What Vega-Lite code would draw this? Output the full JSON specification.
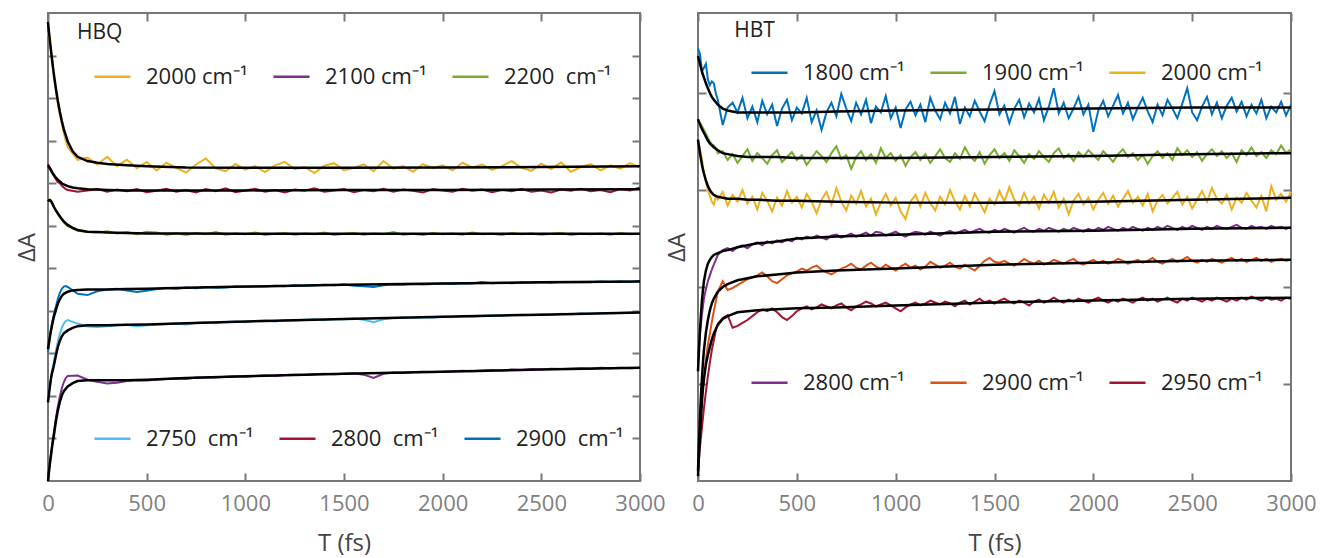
{
"$schema": "https://vega.github.io/schema/vega-lite/v6.json",
"padding": {"left": 14, "top": 11, "right": 0, "bottom": 0},
"background": "white",
"spacing": 58,
"bounds": "flush",
"config": {
  "font": "Open Sans",
  "view": {"stroke": "#777777", "strokeWidth": 2},
  "axis": {"domain": false, "grid": false, "tickColor": "#777777", "tickWidth": 2, "tickSize": -8, "labelColor": "#808080", "labelFontSize": 22, "labelFlush": false, "format": "d", "labelFont": "Open Sans", "titleFont": "Open Sans", "titleFontWeight": "normal", "titleFontSize": 24, "titleColor": "#444444"},
  "legend": {"orient": "none", "direction": "horizontal", "columns": 3, "symbolType": "stroke", "symbolSize": 1300, "symbolStrokeWidth": 2.5, "symbolOpacity": 1, "labelFontSize": 22, "labelFont": "Open Sans", "labelColor": "#222222", "labelOffset": 14, "columnPadding": 20, "padding": 0, "rowPadding": 0}
},
"datasets": {
"hbq": [
{"t":0,"a":10.55,"b":7.45,"c":6.55,"d":3.03,"e":1.93,"f":0.05},
{"t":10,"a":10.30,"b":7.36,"c":6.62,"d":3.42,"e":2.28,"f":0.45},
{"t":20,"a":9.95,"b":7.28,"c":6.56,"d":3.70,"e":2.58,"f":0.82},
{"t":30,"a":9.50,"b":7.17,"c":6.45,"d":3.92,"e":2.80,"f":1.15},
{"t":40,"a":9.20,"b":7.10,"c":6.35,"d":4.10,"e":3.05,"f":1.48},
{"t":50,"a":8.85,"b":7.02,"c":6.27,"d":4.28,"e":3.28,"f":1.75},
{"t":60,"a":8.62,"b":7.00,"c":6.20,"d":4.42,"e":3.46,"f":1.98},
{"t":70,"a":8.40,"b":6.94,"c":6.14,"d":4.52,"e":3.60,"f":2.18},
{"t":80,"a":8.18,"b":6.90,"c":6.08,"d":4.57,"e":3.70,"f":2.32},
{"t":90,"a":8.00,"b":6.86,"c":6.03,"d":4.58,"e":3.76,"f":2.42},
{"t":100,"a":7.85,"b":6.84,"c":5.99,"d":4.56,"e":3.78,"f":2.47},
{"t":150,"a":7.55,"b":6.80,"c":5.88,"d":4.40,"e":3.70,"f":2.48},
{"t":200,"a":7.60,"b":6.83,"c":5.85,"d":4.37,"e":3.63,"f":2.38},
{"t":250,"a":7.44,"b":6.86,"c":5.84,"d":4.46,"e":3.62,"f":2.33},
{"t":300,"a":7.62,"b":6.80,"c":5.87,"d":4.50,"e":3.64,"f":2.29},
{"t":350,"a":7.40,"b":6.85,"c":5.82,"d":4.52,"e":3.66,"f":2.31},
{"t":400,"a":7.55,"b":6.81,"c":5.85,"d":4.48,"e":3.67,"f":2.35},
{"t":450,"a":7.35,"b":6.86,"c":5.80,"d":4.44,"e":3.64,"f":2.37},
{"t":500,"a":7.50,"b":6.79,"c":5.86,"d":4.47,"e":3.66,"f":2.36},
{"t":550,"a":7.30,"b":6.82,"c":5.84,"d":4.51,"e":3.67,"f":2.38},
{"t":600,"a":7.48,"b":6.87,"c":5.79,"d":4.54,"e":3.69,"f":2.40},
{"t":650,"a":7.36,"b":6.80,"c":5.82,"d":4.52,"e":3.70,"f":2.41},
{"t":700,"a":7.25,"b":6.84,"c":5.78,"d":4.55,"e":3.68,"f":2.40},
{"t":750,"a":7.44,"b":6.78,"c":5.83,"d":4.53,"e":3.72,"f":2.43},
{"t":800,"a":7.58,"b":6.86,"c":5.80,"d":4.56,"e":3.73,"f":2.44},
{"t":850,"a":7.35,"b":6.81,"c":5.85,"d":4.54,"e":3.71,"f":2.43},
{"t":900,"a":7.28,"b":6.88,"c":5.79,"d":4.55,"e":3.74,"f":2.45},
{"t":950,"a":7.45,"b":6.79,"c":5.82,"d":4.57,"e":3.75,"f":2.46},
{"t":1000,"a":7.32,"b":6.83,"c":5.80,"d":4.56,"e":3.73,"f":2.45},
{"t":1050,"a":7.40,"b":6.87,"c":5.84,"d":4.58,"e":3.76,"f":2.47},
{"t":1100,"a":7.26,"b":6.80,"c":5.78,"d":4.57,"e":3.77,"f":2.48},
{"t":1150,"a":7.42,"b":6.84,"c":5.81,"d":4.59,"e":3.75,"f":2.47},
{"t":1200,"a":7.50,"b":6.78,"c":5.83,"d":4.58,"e":3.78,"f":2.49},
{"t":1250,"a":7.33,"b":6.85,"c":5.79,"d":4.60,"e":3.77,"f":2.50},
{"t":1300,"a":7.38,"b":6.82,"c":5.82,"d":4.59,"e":3.79,"f":2.49},
{"t":1350,"a":7.24,"b":6.88,"c":5.80,"d":4.60,"e":3.80,"f":2.51},
{"t":1400,"a":7.41,"b":6.80,"c":5.84,"d":4.61,"e":3.78,"f":2.52},
{"t":1450,"a":7.47,"b":6.83,"c":5.78,"d":4.60,"e":3.81,"f":2.51},
{"t":1500,"a":7.30,"b":6.86,"c":5.81,"d":4.62,"e":3.80,"f":2.52},
{"t":1550,"a":7.36,"b":6.79,"c":5.83,"d":4.59,"e":3.82,"f":2.53},
{"t":1600,"a":7.44,"b":6.84,"c":5.79,"d":4.58,"e":3.79,"f":2.50},
{"t":1650,"a":7.28,"b":6.81,"c":5.82,"d":4.56,"e":3.73,"f":2.42},
{"t":1700,"a":7.52,"b":6.87,"c":5.80,"d":4.60,"e":3.80,"f":2.52},
{"t":1750,"a":7.34,"b":6.80,"c":5.85,"d":4.62,"e":3.83,"f":2.55},
{"t":1800,"a":7.40,"b":6.85,"c":5.79,"d":4.61,"e":3.84,"f":2.54},
{"t":1850,"a":7.27,"b":6.82,"c":5.81,"d":4.63,"e":3.83,"f":2.56},
{"t":1900,"a":7.45,"b":6.78,"c":5.78,"d":4.62,"e":3.85,"f":2.57},
{"t":1950,"a":7.35,"b":6.86,"c":5.83,"d":4.63,"e":3.84,"f":2.56},
{"t":2000,"a":7.42,"b":6.83,"c":5.80,"d":4.64,"e":3.86,"f":2.57},
{"t":2050,"a":7.30,"b":6.80,"c":5.82,"d":4.63,"e":3.85,"f":2.58},
{"t":2100,"a":7.48,"b":6.87,"c":5.79,"d":4.65,"e":3.87,"f":2.59},
{"t":2150,"a":7.37,"b":6.82,"c":5.84,"d":4.64,"e":3.86,"f":2.58},
{"t":2200,"a":7.44,"b":6.85,"c":5.80,"d":4.68,"e":3.88,"f":2.60},
{"t":2250,"a":7.31,"b":6.79,"c":5.81,"d":4.65,"e":3.89,"f":2.61},
{"t":2300,"a":7.40,"b":6.84,"c":5.78,"d":4.66,"e":3.88,"f":2.60},
{"t":2350,"a":7.52,"b":6.81,"c":5.83,"d":4.65,"e":3.90,"f":2.62},
{"t":2400,"a":7.36,"b":6.86,"c":5.80,"d":4.67,"e":3.91,"f":2.61},
{"t":2450,"a":7.29,"b":6.80,"c":5.82,"d":4.66,"e":3.90,"f":2.63},
{"t":2500,"a":7.46,"b":6.83,"c":5.79,"d":4.67,"e":3.92,"f":2.62},
{"t":2550,"a":7.33,"b":6.78,"c":5.81,"d":4.66,"e":3.91,"f":2.64},
{"t":2600,"a":7.49,"b":6.85,"c":5.83,"d":4.68,"e":3.93,"f":2.63},
{"t":2650,"a":7.27,"b":6.82,"c":5.78,"d":4.67,"e":3.92,"f":2.64},
{"t":2700,"a":7.38,"b":6.87,"c":5.81,"d":4.68,"e":3.94,"f":2.65},
{"t":2750,"a":7.45,"b":6.81,"c":5.80,"d":4.67,"e":3.93,"f":2.64},
{"t":2800,"a":7.30,"b":6.84,"c":5.82,"d":4.69,"e":3.95,"f":2.66},
{"t":2850,"a":7.42,"b":6.79,"c":5.79,"d":4.68,"e":3.94,"f":2.65},
{"t":2900,"a":7.34,"b":6.86,"c":5.83,"d":4.69,"e":3.95,"f":2.66},
{"t":2950,"a":7.47,"b":6.83,"c":5.80,"d":4.68,"e":3.96,"f":2.65},
{"t":3000,"a":7.36,"b":6.90,"c":5.81,"d":4.70,"e":3.96,"f":2.66}
],
"hbqfit": [
{"t":0,"a":10.79,"b":7.42,"c":6.57,"d":3.10,"e":1.85,"f":0.00},
{"t":5,"a":10.55,"b":7.38,"c":6.60,"d":3.25,"e":2.05,"f":0.22},
{"t":10,"a":10.33,"b":7.34,"c":6.60,"d":3.40,"e":2.24,"f":0.42},
{"t":15,"a":10.12,"b":7.30,"c":6.58,"d":3.53,"e":2.40,"f":0.60},
{"t":20,"a":9.92,"b":7.26,"c":6.54,"d":3.65,"e":2.53,"f":0.78},
{"t":25,"a":9.73,"b":7.22,"c":6.49,"d":3.76,"e":2.62,"f":0.94},
{"t":30,"a":9.55,"b":7.19,"c":6.44,"d":3.86,"e":2.72,"f":1.08},
{"t":40,"a":9.22,"b":7.13,"c":6.36,"d":4.02,"e":2.95,"f":1.40},
{"t":50,"a":8.93,"b":7.08,"c":6.29,"d":4.17,"e":3.15,"f":1.66},
{"t":60,"a":8.68,"b":7.04,"c":6.22,"d":4.27,"e":3.30,"f":1.86},
{"t":70,"a":8.46,"b":7.00,"c":6.16,"d":4.35,"e":3.40,"f":2.01},
{"t":80,"a":8.27,"b":6.97,"c":6.10,"d":4.40,"e":3.47,"f":2.11},
{"t":100,"a":7.98,"b":6.93,"c":6.02,"d":4.45,"e":3.54,"f":2.22},
{"t":125,"a":7.75,"b":6.90,"c":5.95,"d":4.48,"e":3.60,"f":2.30},
{"t":150,"a":7.62,"b":6.88,"c":5.90,"d":4.49,"e":3.64,"f":2.35},
{"t":200,"a":7.52,"b":6.86,"c":5.86,"d":4.50,"e":3.66,"f":2.37},
{"t":250,"a":7.48,"b":6.85,"c":5.85,"d":4.50,"e":3.66,"f":2.37},
{"t":300,"a":7.45,"b":6.84,"c":5.84,"d":4.50,"e":3.66,"f":2.37},
{"t":400,"a":7.42,"b":6.83,"c":5.83,"d":4.51,"e":3.67,"f":2.37},
{"t":500,"a":7.40,"b":6.83,"c":5.82,"d":4.52,"e":3.68,"f":2.38},
{"t":700,"a":7.37,"b":6.83,"c":5.82,"d":4.54,"e":3.71,"f":2.42},
{"t":1000,"a":7.36,"b":6.83,"c":5.81,"d":4.57,"e":3.75,"f":2.46},
{"t":1500,"a":7.36,"b":6.84,"c":5.81,"d":4.61,"e":3.81,"f":2.52},
{"t":2000,"a":7.37,"b":6.84,"c":5.81,"d":4.64,"e":3.86,"f":2.57},
{"t":2500,"a":7.38,"b":6.85,"c":5.81,"d":4.67,"e":3.91,"f":2.62},
{"t":3000,"a":7.40,"b":6.86,"c":5.81,"d":4.69,"e":3.96,"f":2.66}
],
"hbt": [
{"t":0,"a":4.46,"b":3.70,"c":3.50,"d":1.24,"e":0.20,"f":0.10},
{"t":10,"a":4.40,"b":3.69,"c":3.42,"d":1.52,"e":0.55,"f":0.35},
{"t":20,"a":4.22,"b":3.66,"c":3.32,"d":1.72,"e":0.88,"f":0.55},
{"t":30,"a":4.26,"b":3.62,"c":3.18,"d":1.88,"e":1.06,"f":0.75},
{"t":40,"a":4.30,"b":3.58,"c":3.08,"d":1.98,"e":1.25,"f":0.92},
{"t":50,"a":4.14,"b":3.54,"c":3.00,"d":2.06,"e":1.40,"f":1.08},
{"t":60,"a":4.08,"b":3.50,"c":2.94,"d":2.12,"e":1.52,"f":1.22},
{"t":70,"a":4.12,"b":3.47,"c":2.88,"d":2.18,"e":1.64,"f":1.35},
{"t":80,"a":4.10,"b":3.46,"c":2.85,"d":2.23,"e":1.75,"f":1.45},
{"t":90,"a":4.00,"b":3.43,"c":2.93,"d":2.28,"e":1.85,"f":1.55},
{"t":100,"a":3.93,"b":3.38,"c":2.90,"d":2.33,"e":1.95,"f":1.62},
{"t":125,"a":3.67,"b":3.40,"c":2.98,"d":2.38,"e":2.06,"f":1.68},
{"t":150,"a":3.85,"b":3.31,"c":2.84,"d":2.40,"e":1.97,"f":1.71},
{"t":175,"a":3.90,"b":3.37,"c":2.95,"d":2.37,"e":1.99,"f":1.58},
{"t":200,"a":3.80,"b":3.28,"c":2.88,"d":2.41,"e":2.02,"f":1.60},
{"t":225,"a":3.95,"b":3.35,"c":3.00,"d":2.43,"e":2.05,"f":1.63},
{"t":250,"a":3.74,"b":3.42,"c":2.86,"d":2.40,"e":2.08,"f":1.66},
{"t":275,"a":3.86,"b":3.30,"c":2.93,"d":2.44,"e":2.10,"f":1.70},
{"t":300,"a":3.70,"b":3.38,"c":2.80,"d":2.46,"e":2.12,"f":1.74},
{"t":325,"a":3.92,"b":3.33,"c":2.97,"d":2.43,"e":2.15,"f":1.77},
{"t":350,"a":3.78,"b":3.27,"c":2.89,"d":2.47,"e":2.11,"f":1.75},
{"t":375,"a":3.88,"b":3.36,"c":2.78,"d":2.45,"e":2.06,"f":1.78},
{"t":400,"a":3.66,"b":3.41,"c":2.92,"d":2.48,"e":2.04,"f":1.74},
{"t":425,"a":3.84,"b":3.29,"c":2.84,"d":2.46,"e":2.08,"f":1.69},
{"t":450,"a":3.93,"b":3.34,"c":2.99,"d":2.49,"e":2.12,"f":1.66},
{"t":475,"a":3.72,"b":3.39,"c":2.87,"d":2.47,"e":2.14,"f":1.70},
{"t":500,"a":3.85,"b":3.31,"c":2.93,"d":2.51,"e":2.16,"f":1.75},
{"t":525,"a":3.79,"b":3.36,"c":2.82,"d":2.49,"e":2.19,"f":1.78},
{"t":550,"a":3.95,"b":3.26,"c":2.96,"d":2.52,"e":2.17,"f":1.80},
{"t":575,"a":3.70,"b":3.33,"c":2.88,"d":2.50,"e":2.20,"f":1.77},
{"t":600,"a":3.82,"b":3.40,"c":2.76,"d":2.53,"e":2.22,"f":1.79},
{"t":625,"a":3.62,"b":3.35,"c":2.90,"d":2.51,"e":2.18,"f":1.82},
{"t":650,"a":3.80,"b":3.29,"c":2.98,"d":2.49,"e":2.15,"f":1.80},
{"t":675,"a":3.90,"b":3.38,"c":2.85,"d":2.53,"e":2.13,"f":1.78},
{"t":700,"a":3.76,"b":3.45,"c":3.02,"d":2.54,"e":2.16,"f":1.81},
{"t":725,"a":3.99,"b":3.32,"c":2.88,"d":2.51,"e":2.19,"f":1.83},
{"t":750,"a":3.84,"b":3.36,"c":2.79,"d":2.53,"e":2.21,"f":1.79},
{"t":775,"a":3.71,"b":3.22,"c":2.94,"d":2.55,"e":2.24,"f":1.76},
{"t":800,"a":3.90,"b":3.34,"c":2.86,"d":2.52,"e":2.20,"f":1.80},
{"t":825,"a":3.78,"b":3.40,"c":2.99,"d":2.54,"e":2.18,"f":1.82},
{"t":850,"a":3.93,"b":3.31,"c":2.83,"d":2.56,"e":2.22,"f":1.85},
{"t":875,"a":3.69,"b":3.37,"c":2.91,"d":2.53,"e":2.25,"f":1.83},
{"t":900,"a":3.86,"b":3.28,"c":2.75,"d":2.57,"e":2.21,"f":1.80},
{"t":925,"a":3.80,"b":3.43,"c":2.87,"d":2.56,"e":2.19,"f":1.82},
{"t":950,"a":3.97,"b":3.33,"c":2.96,"d":2.53,"e":2.23,"f":1.84},
{"t":975,"a":3.74,"b":3.38,"c":2.84,"d":2.55,"e":2.20,"f":1.81},
{"t":1000,"a":3.85,"b":3.30,"c":2.92,"d":2.57,"e":2.17,"f":1.78},
{"t":1025,"a":3.64,"b":3.36,"c":2.78,"d":2.54,"e":2.21,"f":1.75},
{"t":1050,"a":3.83,"b":3.25,"c":2.70,"d":2.52,"e":2.24,"f":1.79},
{"t":1075,"a":3.91,"b":3.34,"c":2.88,"d":2.55,"e":2.20,"f":1.82},
{"t":1100,"a":3.77,"b":3.39,"c":2.95,"d":2.57,"e":2.22,"f":1.84},
{"t":1125,"a":3.88,"b":3.31,"c":2.83,"d":2.56,"e":2.18,"f":1.81},
{"t":1150,"a":3.70,"b":3.37,"c":2.97,"d":2.54,"e":2.21,"f":1.83},
{"t":1175,"a":3.95,"b":3.28,"c":2.86,"d":2.57,"e":2.26,"f":1.86},
{"t":1200,"a":3.82,"b":3.35,"c":2.79,"d":2.55,"e":2.23,"f":1.84},
{"t":1225,"a":3.73,"b":3.42,"c":2.93,"d":2.53,"e":2.20,"f":1.82},
{"t":1250,"a":3.90,"b":3.33,"c":2.85,"d":2.56,"e":2.22,"f":1.85},
{"t":1275,"a":3.79,"b":3.29,"c":3.00,"d":2.58,"e":2.25,"f":1.83},
{"t":1300,"a":3.96,"b":3.38,"c":2.88,"d":2.55,"e":2.21,"f":1.80},
{"t":1325,"a":3.68,"b":3.32,"c":2.80,"d":2.57,"e":2.19,"f":1.84},
{"t":1350,"a":3.85,"b":3.44,"c":2.94,"d":2.59,"e":2.23,"f":1.86},
{"t":1375,"a":3.76,"b":3.35,"c":2.83,"d":2.56,"e":2.20,"f":1.82},
{"t":1400,"a":3.92,"b":3.30,"c":2.96,"d":2.58,"e":2.17,"f":1.85},
{"t":1425,"a":3.81,"b":3.39,"c":2.87,"d":2.60,"e":2.22,"f":1.88},
{"t":1450,"a":3.71,"b":3.27,"c":2.77,"d":2.57,"e":2.27,"f":1.84},
{"t":1475,"a":3.88,"b":3.36,"c":2.91,"d":2.56,"e":2.30,"f":1.86},
{"t":1500,"a":4.02,"b":3.42,"c":2.85,"d":2.59,"e":2.26,"f":1.83},
{"t":1525,"a":3.78,"b":3.33,"c":2.99,"d":2.57,"e":2.25,"f":1.86},
{"t":1550,"a":3.87,"b":3.38,"c":2.88,"d":2.60,"e":2.27,"f":1.88},
{"t":1575,"a":3.69,"b":3.30,"c":3.03,"d":2.58,"e":2.24,"f":1.85},
{"t":1600,"a":3.84,"b":3.41,"c":2.90,"d":2.56,"e":2.22,"f":1.83},
{"t":1625,"a":3.93,"b":3.35,"c":2.84,"d":2.59,"e":2.25,"f":1.86},
{"t":1650,"a":3.75,"b":3.28,"c":2.97,"d":2.61,"e":2.29,"f":1.84},
{"t":1675,"a":3.89,"b":3.37,"c":2.86,"d":2.58,"e":2.26,"f":1.81},
{"t":1700,"a":3.80,"b":3.32,"c":2.93,"d":2.57,"e":2.24,"f":1.85},
{"t":1725,"a":3.94,"b":3.40,"c":2.81,"d":2.60,"e":2.27,"f":1.87},
{"t":1750,"a":3.72,"b":3.34,"c":2.95,"d":2.58,"e":2.23,"f":1.84},
{"t":1775,"a":3.86,"b":3.29,"c":2.87,"d":2.61,"e":2.25,"f":1.86},
{"t":1800,"a":4.05,"b":3.38,"c":2.98,"d":2.59,"e":2.28,"f":1.89},
{"t":1825,"a":3.79,"b":3.43,"c":2.82,"d":2.57,"e":2.26,"f":1.86},
{"t":1850,"a":3.90,"b":3.33,"c":2.91,"d":2.60,"e":2.24,"f":1.84},
{"t":1875,"a":3.74,"b":3.37,"c":2.75,"d":2.58,"e":2.27,"f":1.87},
{"t":1900,"a":3.84,"b":3.30,"c":2.89,"d":2.61,"e":2.29,"f":1.85},
{"t":1925,"a":3.96,"b":3.39,"c":2.96,"d":2.59,"e":2.25,"f":1.88},
{"t":1950,"a":3.78,"b":3.34,"c":2.85,"d":2.57,"e":2.23,"f":1.86},
{"t":1975,"a":3.88,"b":3.41,"c":2.92,"d":2.60,"e":2.26,"f":1.84},
{"t":2000,"a":3.60,"b":3.36,"c":2.80,"d":2.58,"e":2.28,"f":1.87},
{"t":2025,"a":3.82,"b":3.31,"c":2.90,"d":2.61,"e":2.25,"f":1.89},
{"t":2050,"a":3.92,"b":3.40,"c":2.97,"d":2.59,"e":2.27,"f":1.86},
{"t":2075,"a":3.76,"b":3.35,"c":2.86,"d":2.62,"e":2.24,"f":1.84},
{"t":2100,"a":3.87,"b":3.29,"c":2.94,"d":2.60,"e":2.26,"f":1.87},
{"t":2125,"a":3.98,"b":3.37,"c":2.83,"d":2.58,"e":2.29,"f":1.85},
{"t":2150,"a":3.79,"b":3.42,"c":2.91,"d":2.61,"e":2.27,"f":1.88},
{"t":2175,"a":3.90,"b":3.34,"c":2.99,"d":2.59,"e":2.24,"f":1.86},
{"t":2200,"a":3.73,"b":3.38,"c":2.87,"d":2.62,"e":2.26,"f":1.84},
{"t":2225,"a":3.85,"b":3.31,"c":2.93,"d":2.60,"e":2.28,"f":1.87},
{"t":2250,"a":3.95,"b":3.36,"c":2.84,"d":2.58,"e":2.25,"f":1.89},
{"t":2275,"a":3.81,"b":3.27,"c":2.96,"d":2.61,"e":2.27,"f":1.86},
{"t":2300,"a":3.70,"b":3.35,"c":2.78,"d":2.59,"e":2.30,"f":1.88},
{"t":2325,"a":3.88,"b":3.40,"c":2.89,"d":2.62,"e":2.26,"f":1.85},
{"t":2350,"a":3.77,"b":3.33,"c":2.95,"d":2.60,"e":2.24,"f":1.87},
{"t":2375,"a":3.93,"b":3.38,"c":2.86,"d":2.63,"e":2.27,"f":1.89},
{"t":2400,"a":3.84,"b":3.31,"c":2.92,"d":2.61,"e":2.29,"f":1.86},
{"t":2425,"a":3.74,"b":3.43,"c":2.98,"d":2.59,"e":2.26,"f":1.84},
{"t":2450,"a":3.89,"b":3.36,"c":2.85,"d":2.62,"e":2.28,"f":1.88},
{"t":2475,"a":4.05,"b":3.41,"c":2.93,"d":2.60,"e":2.31,"f":1.86},
{"t":2500,"a":3.80,"b":3.34,"c":2.81,"d":2.63,"e":2.27,"f":1.89},
{"t":2525,"a":3.72,"b":3.39,"c":2.90,"d":2.61,"e":2.25,"f":1.87},
{"t":2550,"a":3.86,"b":3.30,"c":2.99,"d":2.59,"e":2.28,"f":1.85},
{"t":2575,"a":3.96,"b":3.37,"c":2.88,"d":2.62,"e":2.26,"f":1.88},
{"t":2600,"a":3.78,"b":3.42,"c":3.02,"d":2.60,"e":2.29,"f":1.86},
{"t":2625,"a":3.90,"b":3.35,"c":2.91,"d":2.63,"e":2.27,"f":1.89},
{"t":2650,"a":3.74,"b":3.40,"c":2.86,"d":2.61,"e":2.25,"f":1.87},
{"t":2675,"a":3.87,"b":3.33,"c":2.95,"d":2.60,"e":2.28,"f":1.85},
{"t":2700,"a":3.95,"b":3.38,"c":2.80,"d":2.62,"e":2.30,"f":1.88},
{"t":2725,"a":3.81,"b":3.29,"c":2.92,"d":2.64,"e":2.27,"f":1.86},
{"t":2750,"a":3.91,"b":3.41,"c":2.87,"d":2.61,"e":2.29,"f":1.89},
{"t":2775,"a":3.76,"b":3.36,"c":2.97,"d":2.60,"e":2.26,"f":1.87},
{"t":2800,"a":3.88,"b":3.44,"c":2.89,"d":2.63,"e":2.28,"f":1.90},
{"t":2825,"a":3.79,"b":3.35,"c":2.82,"d":2.61,"e":2.30,"f":1.88},
{"t":2850,"a":3.93,"b":3.39,"c":2.94,"d":2.62,"e":2.27,"f":1.86},
{"t":2875,"a":3.74,"b":3.33,"c":2.78,"d":2.60,"e":2.29,"f":1.89},
{"t":2900,"a":3.86,"b":3.41,"c":3.04,"d":2.63,"e":2.26,"f":1.87},
{"t":2925,"a":3.80,"b":3.37,"c":2.90,"d":2.61,"e":2.28,"f":1.88},
{"t":2950,"a":3.91,"b":3.46,"c":2.96,"d":2.62,"e":2.29,"f":1.86},
{"t":2975,"a":3.77,"b":3.38,"c":2.88,"d":2.60,"e":2.27,"f":1.89},
{"t":3000,"a":3.88,"b":3.42,"c":2.98,"d":2.62,"e":2.28,"f":1.88}
],
"hbtfit": [
{"t":0,"a":4.38,"b":3.73,"c":3.52,"d":1.13,"e":0.10,"f":0.05},
{"t":5,"a":4.34,"b":3.70,"c":3.45,"d":1.35,"e":0.40,"f":0.27},
{"t":10,"a":4.30,"b":3.68,"c":3.38,"d":1.55,"e":0.66,"f":0.47},
{"t":15,"a":4.26,"b":3.65,"c":3.32,"d":1.72,"e":0.88,"f":0.65},
{"t":20,"a":4.22,"b":3.63,"c":3.26,"d":1.86,"e":1.06,"f":0.82},
{"t":25,"a":4.19,"b":3.61,"c":3.21,"d":1.97,"e":1.22,"f":0.95},
{"t":30,"a":4.16,"b":3.59,"c":3.17,"d":2.06,"e":1.35,"f":1.05},
{"t":40,"a":4.10,"b":3.55,"c":3.10,"d":2.17,"e":1.53,"f":1.20},
{"t":50,"a":4.05,"b":3.51,"c":3.04,"d":2.24,"e":1.66,"f":1.30},
{"t":60,"a":4.00,"b":3.48,"c":3.00,"d":2.28,"e":1.76,"f":1.38},
{"t":70,"a":3.96,"b":3.46,"c":2.97,"d":2.31,"e":1.83,"f":1.46},
{"t":80,"a":3.93,"b":3.44,"c":2.95,"d":2.33,"e":1.88,"f":1.52},
{"t":100,"a":3.88,"b":3.41,"c":2.93,"d":2.35,"e":1.95,"f":1.61},
{"t":125,"a":3.84,"b":3.38,"c":2.92,"d":2.37,"e":2.00,"f":1.67},
{"t":150,"a":3.82,"b":3.37,"c":2.91,"d":2.38,"e":2.03,"f":1.70},
{"t":200,"a":3.80,"b":3.35,"c":2.91,"d":2.41,"e":2.07,"f":1.74},
{"t":250,"a":3.80,"b":3.34,"c":2.90,"d":2.43,"e":2.09,"f":1.75},
{"t":300,"a":3.80,"b":3.34,"c":2.90,"d":2.45,"e":2.11,"f":1.76},
{"t":400,"a":3.80,"b":3.34,"c":2.89,"d":2.47,"e":2.13,"f":1.77},
{"t":500,"a":3.80,"b":3.33,"c":2.89,"d":2.50,"e":2.15,"f":1.78},
{"t":700,"a":3.81,"b":3.33,"c":2.88,"d":2.52,"e":2.17,"f":1.79},
{"t":1000,"a":3.82,"b":3.33,"c":2.87,"d":2.54,"e":2.19,"f":1.81},
{"t":1500,"a":3.83,"b":3.34,"c":2.87,"d":2.57,"e":2.23,"f":1.84},
{"t":2000,"a":3.84,"b":3.35,"c":2.88,"d":2.58,"e":2.25,"f":1.86},
{"t":2500,"a":3.85,"b":3.37,"c":2.90,"d":2.60,"e":2.27,"f":1.88},
{"t":3000,"a":3.85,"b":3.38,"c":2.92,"d":2.61,"e":2.28,"f":1.89}
]
},
"hconcat": [
{
  "width": 592, "height": 468,
  "layer": [
    {"data": {"name": "hbq"}, "transform": [{"fold": ["a","b","c","d","e","f"], "as": ["k","v"]}],
     "mark": {"type": "line", "strokeWidth": 2},
     "encoding": {
       "x": {"field": "t", "type": "quantitative", "scale": {"domain": [0,3000], "nice": false}, "axis": {"orient": "bottom", "values": [0,500,1000,1500,2000,2500,3000], "title": "T (fs)", "labelPadding": 20, "titlePadding": 17}},
       "y": {"field": "v", "type": "quantitative", "scale": {"domain": [0,11], "nice": false, "zero": false}, "axis": {"orient": "left", "values": [1,2,3,4,5,6,7,8,9,10], "labels": false, "title": "ΔA", "titlePadding": 8}},
       "color": {"field": "k", "type": "nominal", "scale": {"domain": ["a","b","c","d","e","f"], "range": ["#EDB120","#A2142F","#77AC30","#0072BD","#4DBEEE","#7E2F8E"]}, "legend": null}
     }},
    {"data": {"name": "hbqfit"}, "transform": [{"fold": ["a","b","c","d","e","f"], "as": ["k","v"]}],
     "mark": {"type": "line", "color": "#000000", "strokeWidth": 2.5},
     "encoding": {
       "x": {"field": "t", "type": "quantitative", "scale": {"domain": [0,3000], "nice": false}, "axis": {"orient": "top", "values": [0,500,1000,1500,2000,2500,3000], "labels": false, "title": null}},
       "y": {"field": "v", "type": "quantitative", "scale": {"domain": [0,11], "nice": false, "zero": false}, "axis": {"orient": "right", "values": [1,2,3,4,5,6,7,8,9,10], "labels": false, "title": null}},
       "detail": {"field": "k", "type": "nominal"}
     }},
    {"data": {"values": [{"w": "2000 cm⁻¹"},{"w": "2100 cm⁻¹"},{"w": "2200\u00a0 cm⁻¹"}]},
     "mark": {"type": "point", "opacity": 0},
     "encoding": {"color": {"field": "w", "type": "nominal", "scale": {"domain": ["2000 cm⁻¹","2100 cm⁻¹","2200\u00a0 cm⁻¹"], "range": ["#EDB120","#7E2F8E","#77AC30"]}, "legend": {"title": null, "legendX": 45, "legendY": 44}}}},
    {"data": {"values": [{"w": "2750\u00a0 cm⁻¹"},{"w": "2800\u00a0 cm⁻¹"},{"w": "2900\u00a0 cm⁻¹"}]},
     "mark": {"type": "point", "opacity": 0},
     "encoding": {"color": {"field": "w", "type": "nominal", "scale": {"domain": ["2750\u00a0 cm⁻¹","2800\u00a0 cm⁻¹","2900\u00a0 cm⁻¹"], "range": ["#4DBEEE","#A2142F","#0072BD"]}, "legend": {"title": null, "legendX": 45, "legendY": 406}}}},
    {"data": {"values": [{"s": "HBQ"}]},
     "mark": {"type": "text", "align": "left", "baseline": "middle", "fontSize": 21, "color": "#222222"},
     "encoding": {"x": {"datum": 147, "type": "quantitative", "scale": {"domain": [0,3000], "nice": false}, "axis": null}, "y": {"datum": 10.52, "type": "quantitative", "scale": {"domain": [0,11], "nice": false, "zero": false}, "axis": null}, "text": {"field": "s"}}}
  ],
  "resolve": {"scale": {"color": "independent"}, "axis": {"x": "independent", "y": "independent"}}
},
{
  "width": 593, "height": 468,
  "layer": [
    {"data": {"name": "hbt"}, "transform": [{"fold": ["a","b","c","d","e","f"], "as": ["k","v"]}],
     "mark": {"type": "line", "strokeWidth": 2},
     "encoding": {
       "x": {"field": "t", "type": "quantitative", "scale": {"domain": [0,3000], "nice": false}, "axis": {"orient": "bottom", "values": [0,500,1000,1500,2000,2500,3000], "title": "T (fs)", "labelPadding": 20, "titlePadding": 17}},
       "y": {"field": "v", "type": "quantitative", "scale": {"domain": [0,4.825], "nice": false, "zero": false}, "axis": {"orient": "left", "values": [1,2,3,4], "labels": false, "title": "ΔA", "titlePadding": 8}},
       "color": {"field": "k", "type": "nominal", "scale": {"domain": ["a","b","c","d","e","f"], "range": ["#0072BD","#77AC30","#EDB120","#7E2F8E","#D95319","#A2142F"]}, "legend": null}
     }},
    {"data": {"name": "hbtfit"}, "transform": [{"fold": ["a","b","c","d","e","f"], "as": ["k","v"]}],
     "mark": {"type": "line", "color": "#000000", "strokeWidth": 2.5},
     "encoding": {
       "x": {"field": "t", "type": "quantitative", "scale": {"domain": [0,3000], "nice": false}, "axis": {"orient": "top", "values": [0,500,1000,1500,2000,2500,3000], "labels": false, "title": null}},
       "y": {"field": "v", "type": "quantitative", "scale": {"domain": [0,4.825], "nice": false, "zero": false}, "axis": {"orient": "right", "values": [1,2,3,4], "labels": false, "title": null}},
       "detail": {"field": "k", "type": "nominal"}
     }},
    {"data": {"values": [{"w": "1800 cm⁻¹"},{"w": "1900 cm⁻¹"},{"w": "2000 cm⁻¹"}]},
     "mark": {"type": "point", "opacity": 0},
     "encoding": {"color": {"field": "w", "type": "nominal", "scale": {"domain": ["1800 cm⁻¹","1900 cm⁻¹","2000 cm⁻¹"], "range": ["#0072BD","#77AC30","#EDB120"]}, "legend": {"title": null, "legendX": 52, "legendY": 40}}}},
    {"data": {"values": [{"w": "2800 cm⁻¹"},{"w": "2900 cm⁻¹"},{"w": "2950 cm⁻¹"}]},
     "mark": {"type": "point", "opacity": 0},
     "encoding": {"color": {"field": "w", "type": "nominal", "scale": {"domain": ["2800 cm⁻¹","2900 cm⁻¹","2950 cm⁻¹"], "range": ["#7E2F8E","#D95319","#A2142F"]}, "legend": {"title": null, "legendX": 52, "legendY": 350}}}},
    {"data": {"values": [{"s": "HBT"}]},
     "mark": {"type": "text", "align": "left", "baseline": "middle", "fontSize": 21, "color": "#222222"},
     "encoding": {"x": {"datum": 183, "type": "quantitative", "scale": {"domain": [0,3000], "nice": false}, "axis": null}, "y": {"datum": 4.64, "type": "quantitative", "scale": {"domain": [0,4.825], "nice": false, "zero": false}, "axis": null}, "text": {"field": "s"}}}
  ],
  "resolve": {"scale": {"color": "independent"}, "axis": {"x": "independent", "y": "independent"}}
}
]
}
